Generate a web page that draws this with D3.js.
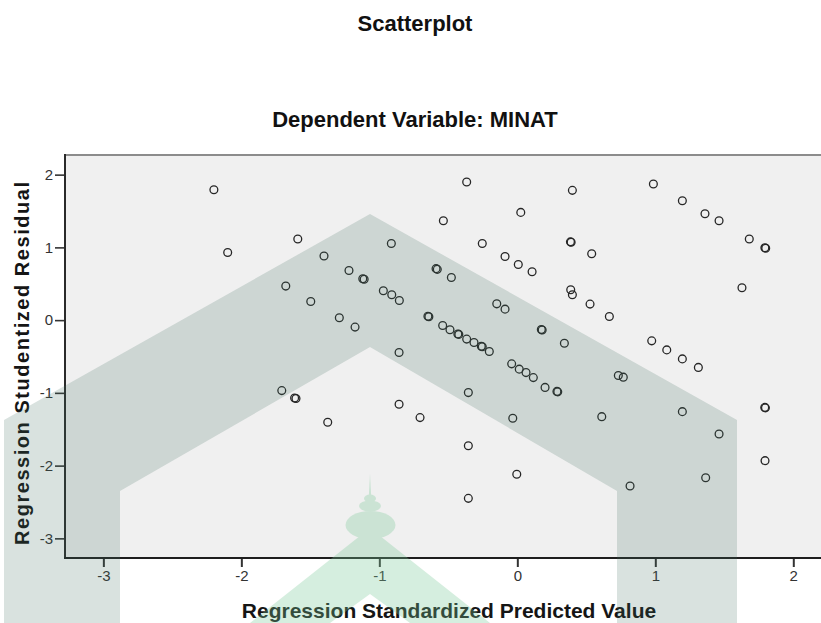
<!DOCTYPE html>
<html>
<head>
<meta charset="utf-8">
<script src="https://cdn.jsdelivr.net/npm/d3@7/dist/d3.min.js"></script>
<style>
  html, body { margin: 0; padding: 0; background: #ffffff; }
  svg { display: block; font-family: "Liberation Sans", Arial, sans-serif; }
</style>
</head>
<body>
<svg id="chart" width="821" height="623"></svg>
<script>
// Regression standardized predicted values (x) and studentized residuals (y)
const predictedValues = [
  -2.199, -2.099, -1.591, -1.401, -1.678, -1.497, -1.220, -1.120, -1.110,
  -0.971, -0.910, -0.855, -0.913, -1.290, -1.176, -1.707, -1.614, -1.604,
  -1.374, -0.857, -0.857, -0.705, -0.367, -0.536, -0.254, 0.025,
  -0.589, -0.580, -0.478, -0.089, 0.007, 0.107, -0.149, -0.089,
  -0.648, -0.641, -0.541, -0.488, -0.431, -0.424, -0.367, -0.314,
  -0.261, -0.254, -0.203, -0.355, -0.355, -0.355,
  -0.041, 0.014, 0.063, 0.116, 0.201, 0.287, 0.293, -0.033, -0.004,
  0.174, 0.180, 0.341, 0.399, 0.385, 0.390, 0.539, 0.387, 0.399, 0.527, 0.667,
  0.986, 1.196, 1.360, 1.462, 1.681, 1.794, 1.800, 1.628,
  0.974, 1.083, 1.196, 1.312, 0.732, 0.768, 0.612, 1.196, 1.462,
  1.793, 1.798, 1.795, 1.365, 0.817
];
const studentizedResiduals = [
  1.793, 0.930, 1.115, 0.881, 0.468, 0.256, 0.683, 0.568, 0.562,
  0.403, 0.348, 0.270, 1.054, 0.032, -0.096, -0.969, -1.070, -1.078,
  -1.404, -0.446, -1.156, -1.340, 1.899, 1.367, 1.054, 1.481,
  0.708, 0.698, 0.586, 0.875, 0.765, 0.665, 0.224, 0.151,
  0.053, 0.047, -0.074, -0.133, -0.190, -0.196, -0.261, -0.308,
  -0.360, -0.366, -0.432, -0.996, -1.726, -2.450,
  -0.601, -0.674, -0.721, -0.790, -0.925, -0.980, -0.986, -1.349, -2.119,
  -0.130, -0.136, -0.317, 1.784, 1.076, 1.070, 0.912, 0.417, 0.348, 0.220, 0.050,
  1.872, 1.642, 1.463, 1.367, 1.115, 0.994, 0.988, 0.445,
  -0.285, -0.409, -0.533, -0.650, -0.762, -0.784, -1.327, -1.258, -1.565,
  -1.200, -1.206, -1.932, -2.166, -2.280
];
const xTicks = [-3, -2, -1, 0, 1, 2];
const yTicks = [-3, -2, -1, 0, 1, 2];
const chartTitle = "Scatterplot";
const chartSubtitle = "Dependent Variable: MINAT";
const xTitle = "Regression Standardized Predicted Value";
const yTitle = "Regression Studentized Residual";

const points = predictedValues.map((v, i) => ({ x: v, y: studentizedResiduals[i] }));

const svg = d3.select("#chart");
const plot = { left: 65, right: 830, top: 155, bottom: 558 };

const x = d3.scaleLinear().domain([-3.278, 2.266]).range([plot.left, plot.right]);
const y = d3.scaleLinear().domain([-3.27, 2.27]).range([plot.bottom, plot.top]);

// plain hyphen-minus tick labels
const tickFmt = d => String(d);

// plot background
svg.append("rect")
  .attr("x", plot.left).attr("y", plot.top)
  .attr("width", plot.right - plot.left).attr("height", plot.bottom - plot.top)
  .attr("fill", "#f0f0f0");

// top frame line
svg.append("line")
  .attr("x1", plot.left).attr("x2", plot.right)
  .attr("y1", plot.top).attr("y2", plot.top)
  .attr("stroke", "#8c8c8c").attr("stroke-width", 2);

// axes
const xAxis = d3.axisBottom(x).tickValues(xTicks).tickSize(9).tickPadding(3).tickFormat(tickFmt);
const yAxis = d3.axisLeft(y).tickValues(yTicks).tickSize(10).tickPadding(2).tickFormat(tickFmt);

const gx = svg.append("g").attr("transform", `translate(0,${plot.bottom})`).call(xAxis);
const gy = svg.append("g").attr("transform", `translate(${plot.left},0)`).call(yAxis);

[gx, gy].forEach(g => {
  g.select(".domain").remove();
  g.selectAll(".tick line").attr("stroke", "#333").attr("stroke-width", 1.6);
  g.selectAll(".tick text")
    .attr("fill", "#333")
    .style("font-size", "15px")
    .style("font-family", "'Liberation Sans', Arial, sans-serif");
});
gx.selectAll(".tick line").attr("stroke-width", 2);

// axis lines
svg.append("line")
  .attr("x1", plot.left).attr("x2", plot.left)
  .attr("y1", plot.top - 1).attr("y2", plot.bottom + 1)
  .attr("stroke", "#2a2a2a").attr("stroke-width", 2);
svg.append("line")
  .attr("x1", plot.left - 1).attr("x2", plot.right)
  .attr("y1", plot.bottom).attr("y2", plot.bottom)
  .attr("stroke", "#1e1e1e").attr("stroke-width", 2);

// points
svg.append("g")
  .selectAll("circle")
  .data(points)
  .join("circle")
  .attr("cx", d => x(d.x))
  .attr("cy", d => y(d.y))
  .attr("r", 3.9)
  .attr("fill", "none")
  .attr("stroke", "#262626")
  .attr("stroke-width", 1.3);

// titles
svg.append("text")
  .attr("x", 415).attr("y", 31)
  .attr("text-anchor", "middle")
  .style("font-size", "22px").style("font-weight", "bold")
  .attr("fill", "#111")
  .text(chartTitle);

svg.append("text")
  .attr("x", 415).attr("y", 127)
  .attr("text-anchor", "middle")
  .style("font-size", "22px").style("font-weight", "bold")
  .attr("fill", "#111")
  .text(chartSubtitle);

svg.append("text")
  .attr("x", 449).attr("y", 618)
  .attr("text-anchor", "middle")
  .style("font-size", "21px").style("font-weight", "bold")
  .attr("fill", "#151515")
  .text(xTitle);

svg.append("text")
  .attr("transform", "translate(29,363.5) rotate(-90)")
  .attr("text-anchor", "middle")
  .attr("textLength", 363)
  .attr("lengthAdjust", "spacing")
  .style("font-size", "20px").style("font-weight", "bold")
  .attr("fill", "#151515")
  .text(yTitle);

// emblem overlay: grey chevron band
const emblem = svg.append("g").attr("pointer-events", "none");
emblem.append("path")
  .attr("d", "M4,623 L4,420 L370,214 L737,420 L737,623 L617,623 L617,491 L370,347 L120,491 L120,623 Z")
  .attr("fill", "rgb(65,110,95)")
  .attr("opacity", 0.2);

// emblem overlay: green dome and small chevron
const dome = emblem.append("g").attr("fill", "rgb(120,200,150)").attr("opacity", 0.3);
dome.append("path").attr("d", "M330,623 L250,623 L370,528 L490,623 L410,623 L370,594 Z");
dome.append("path").attr("d", "M368.6,500 L370,474 L371.4,500 Z");
dome.append("ellipse").attr("cx", 370).attr("cy", 498.5).attr("rx", 6).attr("ry", 4);
dome.append("ellipse").attr("cx", 370).attr("cy", 506).attr("rx", 11).attr("ry", 5.5);
dome.append("ellipse").attr("cx", 370.5).attr("cy", 525).attr("rx", 25).attr("ry", 14);
dome.append("path").attr("d", "M359,534 L382,534 L379,547 L362,547 Z");
</script>
</body>
</html>
